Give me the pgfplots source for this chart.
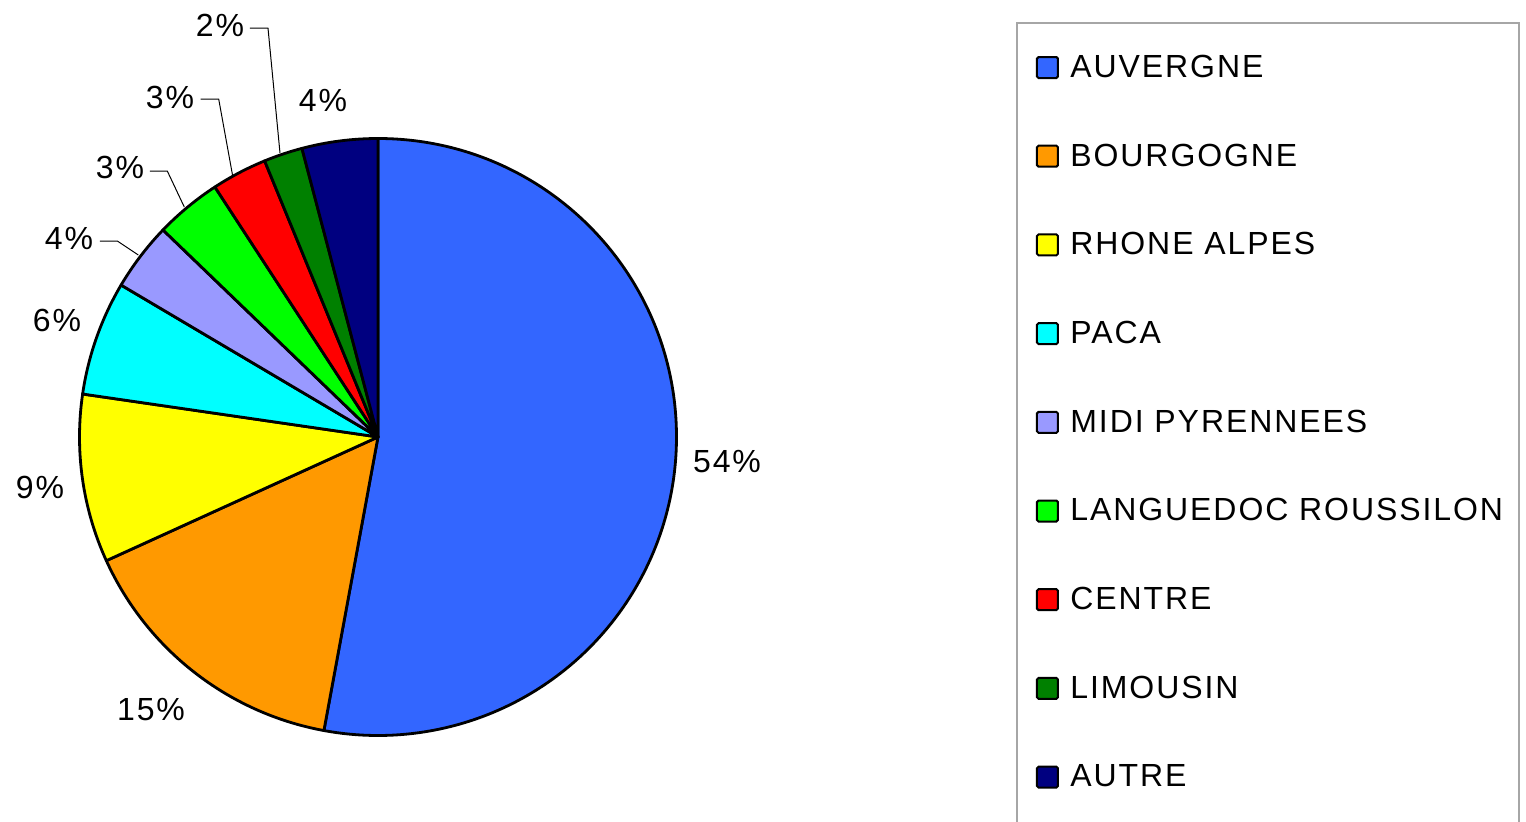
\documentclass[border=0pt]{standalone}
\usepackage{pgfplots}
\pgfplotsset{compat=1.18}
\usepackage{pgfplotstable}
\usepackage{fontspec}
\setmainfont{Liberation Sans}[LetterSpace=6]
\definecolor{c0}{HTML}{3366FF}
\definecolor{c1}{HTML}{FF9900}
\definecolor{c2}{HTML}{FFFF00}
\definecolor{c3}{HTML}{00FFFF}
\definecolor{c4}{HTML}{9999FF}
\definecolor{c5}{HTML}{00FF00}
\definecolor{c6}{HTML}{FF0000}
\definecolor{c7}{HTML}{008000}
\definecolor{c8}{HTML}{000080}
\pgfplotstableread{
share
52.9
15.3
9.1
6.2
3.7
3.6
3.0
2.1
4.1
}\piedata
\newcommand\legentry[2]{%
  \draw[fill=c#1, draw=black, line width=1bp, rounded corners=0.8bp]
    (axis cs:1037,{765-88.7*#1}) rectangle (axis cs:1058,{744-88.7*#1});
  \node[anchor=base west, inner sep=0pt] at (axis cs:1070,{744.7-88.7*#1}) {#2};
}
\begin{document}
\begin{tikzpicture}
\path[use as bounding box] (0,0) rectangle (763bp,411bp);
\begin{axis}[
  at={(0,0)}, anchor=south west,
  x=0.5bp, y=0.5bp,
  xmin=0, xmax=1526, ymin=0, ymax=822,
  hide axis, clip=false,
  font=\fontsize{16bp}{19bp}\selectfont,
]
\def\cum{90}
\pgfplotsforeachungrouped \i in {0,...,8}{%
  \pgfplotstablegetelem{\i}{share}\of\piedata
  \pgfmathsetmacro\aend{\cum-3.6*\pgfplotsretval}%
  \edef\temp{\noexpand\filldraw[fill=c\i, draw=black, line width=1.4bp, line join=round]
    (axis cs:378,385) -- ++(\cum:149.25bp) arc[start angle=\cum, end angle=\aend, radius=149.25bp] -- cycle;}%
  \temp
  \global\let\cum\aend
}
% leader lines
\draw[line width=0.5bp] (axis cs:250,794) -- (axis cs:268,794) -- (axis cs:280,669);
\draw[line width=0.5bp] (axis cs:200.7,723) -- (axis cs:218.7,723) -- (axis cs:232.7,646);
\draw[line width=0.5bp] (axis cs:150,651) -- (axis cs:167.3,651) -- (axis cs:184.3,615);
\draw[line width=0.5bp] (axis cs:100,581) -- (axis cs:117.3,581) -- (axis cs:138.3,567);
% percentage labels
\node[inner sep=0pt] at (axis cs:727,360) {54\%};
\node[inner sep=0pt] at (axis cs:151,112) {15\%};
\node[inner sep=0pt] at (axis cs:40,335) {9\%};
\node[inner sep=0pt] at (axis cs:57,502) {6\%};
\node[inner sep=0pt] at (axis cs:69,584) {4\%};
\node[inner sep=0pt] at (axis cs:120,655) {3\%};
\node[inner sep=0pt] at (axis cs:170,725) {3\%};
\node[inner sep=0pt] at (axis cs:220,797) {2\%};
\node[inner sep=0pt] at (axis cs:323,722) {4\%};
% legend
\draw[gray!70, line width=0.8bp] (axis cs:1017,-5) -- (axis cs:1017,799) -- (axis cs:1519,799) -- (axis cs:1519,-5);
\legentry{0}{AUVERGNE}
\legentry{1}{BOURGOGNE}
\legentry{2}{RHONE ALPES}
\legentry{3}{PACA}
\legentry{4}{MIDI PYRENNEES}
\legentry{5}{LANGUEDOC ROUSSILON}
\legentry{6}{CENTRE}
\legentry{7}{LIMOUSIN}
\legentry{8}{AUTRE}
\end{axis}
\end{tikzpicture}
\end{document}
